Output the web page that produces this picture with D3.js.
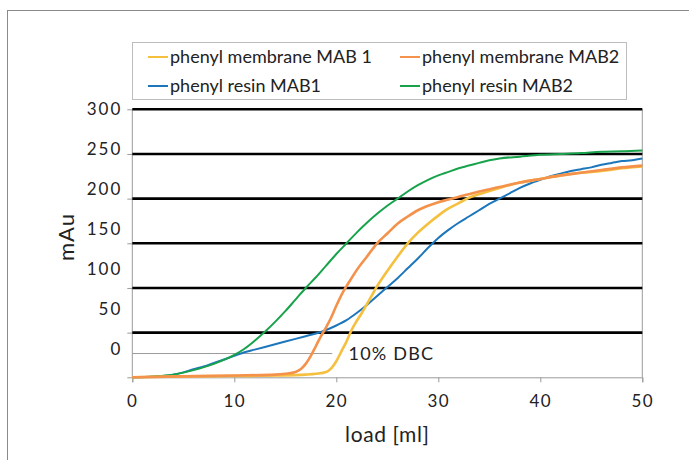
<!DOCTYPE html>
<html><head><meta charset="utf-8">
<script src="https://cdn.jsdelivr.net/npm/d3@7"></script>
<style>body{margin:0;background:#fff}svg text{font-family:Lato,"Noto Sans",sans-serif;fill:#222}</style>
</head><body>
<svg id="c" width="689" height="460"></svg>
<script>
const seriesNames = ["phenyl membrane MAB 1","phenyl membrane MAB2","phenyl resin MAB1","phenyl resin MAB2"];
const seriesColors = ["#F6C03F","#F4914A","#1C76BC","#17A24B"];
const xTicks = [0,10,20,30,40,50];
const yTicks = [0,50,100,150,200,250,300];
const gridValues = [50,100,150,200,250,300];
const dbcValue = 26.6, dbcEnd = 19.6;
const membraneMAB1 = [[0,0],[5,1],[10,1.5],[15,2],[17,3],[18,4],[19,6],[19.5,10],[20,18],[20.5,29],[21,40],[21.5,53],[22,63],[22.5,72],[23,82],[23.5,92],[24,102],[25,119],[26,135],[27,150],[28,162],[29,172],[30,181],[31,189],[32,195],[33,201],[34,205],[36,212],[38,218],[40,222],[42,226],[44,229],[46,231],[48,234],[50,236]];
const membraneMAB2 = [[0,0],[5,1],[10,2],[14,3],[15,4],[16,6],[16.5,9],[17,15],[17.5,24],[18,35],[18.5,46],[19,56],[19.5,67],[20,80],[20.5,92],[21,102],[21.5,111],[22,120],[23,135],[24,150],[25,161],[26,172],[27,180],[28,187],[29,192],[30,196],[31,199],[32,202],[34,208],[36,213],[38,218],[40,222],[42,226],[44,229],[46,232],[48,235],[50,237]];
const resinMAB1 = [[0,0],[2,0.5],[3,1.5],[4,3],[5,5.5],[6,9],[7,12],[8,16],[9,20],[10,24],[11,28],[12,31],[13,34],[14,37],[15,40],[16,43],[17,46],[18,49],[19,53],[20,58],[21,64],[22,72],[23,81],[24,91],[25,101],[26,111],[27,122],[28,133],[29,145],[30,156],[31,165],[32,173],[33,180],[34,187],[35,194],[36,200],[37,206],[38,212],[39,217],[40,221],[41,225],[42,228],[43,231],[44,233],[45,235],[46,238],[47,240],[48,242],[49,243],[50,245]];
const resinMAB2 = [[0,0],[2,1],[4,3],[6,8],[8,15],[10,25],[11,32],[12,41],[13,51],[14,62],[15,74],[16,87],[17,100],[18,112],[19,125],[20,138],[21,150],[22,162],[23,173],[24,183],[25,192],[26,200],[27,208],[28,215],[29,221],[30,226],[31,230],[32,234],[33,237],[34,240],[35,243],[36,245],[38,247],[40,249],[42,250],[44,251],[46,252.5],[48,253],[50,254]];
const seriesData = [membraneMAB1, membraneMAB2, resinMAB1, resinMAB2];
const seriesWidths = [2.6,2.6,2,2];

const svg = d3.select("#c");
const x = d3.scaleLinear().domain([0,50]).range([132.3,642.3]);
const y = d3.scaleLinear().domain([0,300]).range([377.3,109.3]);
const yLab = d3.scaleLinear().domain([0,300]).range([349,109]);

// outer frame
svg.append("rect").attr("x",7.5).attr("y",10.5).attr("width",720).attr("height",500)
  .attr("fill","none").attr("stroke","#8a8a8a").attr("stroke-width",1);

const gray = "#9a9a9a";
svg.append("line").attr("x1",x(0)).attr("x2",x(0)).attr("y1",y(300)).attr("y2",y(0)).attr("stroke",gray);
svg.append("line").attr("x1",x(50)).attr("x2",x(50)).attr("y1",y(300)).attr("y2",y(0)).attr("stroke",gray);

// x axis
const xa = svg.append("g").attr("transform",`translate(0,${y(0)})`)
  .call(d3.axisBottom(x).tickValues(xTicks).tickSize(5).tickPadding(13).tickFormat(d3.format("d")));
xa.select(".domain").attr("stroke",gray);
xa.selectAll(".tick line").attr("stroke",gray);
xa.selectAll("text").style("font-size","17px").style("letter-spacing","1.5px").attr("fill","#222");

// y ticks
const ya = svg.append("g").attr("transform",`translate(${x(0)},0)`)
  .call(d3.axisLeft(y).tickValues(yTicks).tickSize(5).tickFormat(""));
ya.select(".domain").remove();
ya.selectAll(".tick line").attr("stroke",gray);
const yl = svg.append("g").attr("transform",`translate(${x(0)-10},0)`)
  .call(d3.axisLeft(yLab).tickValues(yTicks).tickSize(0).tickPadding(0));
yl.select(".domain").remove();
yl.selectAll("text").style("font-size","17px").style("letter-spacing","2px").attr("fill","#222");

// gridlines
svg.append("g").selectAll("line").data(gridValues).join("line")
  .attr("x1",x(0)).attr("x2",x(50)).attr("y1",d=>y(d)).attr("y2",d=>y(d))
  .attr("stroke","#000").attr("stroke-width",2.6);

// 10% DBC
svg.append("line").attr("x1",x(0)).attr("x2",x(dbcEnd)).attr("y1",y(dbcValue)).attr("y2",y(dbcValue))
  .attr("stroke",gray).attr("stroke-width",1);
svg.append("text").attr("x",x(21.2)).attr("y",y(dbcValue)).attr("dy","0.35em")
  .style("font-size","18px").style("letter-spacing","1.2px").text("10% DBC");

// curves
const line = d3.line().x(d=>x(d[0])).y(d=>y(d[1])).curve(d3.curveMonotoneX);
[2,3,0,1].forEach(i=>{
  svg.append("path").datum(seriesData[i]).attr("d",line).attr("fill","none")
    .attr("stroke",seriesColors[i]).attr("stroke-width",seriesWidths[i]).attr("stroke-linejoin","round");
});

// axis titles
svg.append("text").attr("x",(x(0)+x(50))/2).attr("y",435).attr("dy","0.35em").attr("text-anchor","middle")
  .style("font-size","21px").style("letter-spacing","0.6px").text("load [ml]");
svg.append("text").attr("transform","translate(66,237) rotate(-90)").attr("dy","0.35em").attr("text-anchor","middle")
  .style("font-size","22px").style("letter-spacing","1px").text("mAu");

// legend
const lg = svg.append("g");
lg.append("rect").attr("x",132.5).attr("y",42.5).attr("width",494).attr("height",57)
  .attr("fill","#fff").attr("stroke","#bdbdbd");
const legPos = [[148,57],[400,57],[148,86],[400,86]];
seriesNames.forEach((n,i)=>{
  const [lx,ly] = legPos[i];
  lg.append("line").attr("x1",lx).attr("x2",lx+20).attr("y1",ly).attr("y2",ly)
    .attr("stroke",seriesColors[i]).attr("stroke-width",2);
  lg.append("text").attr("x",lx+22).attr("y",ly).attr("dy","0.35em").style("font-size","18px").text(n);
});
</script>
</body></html>
